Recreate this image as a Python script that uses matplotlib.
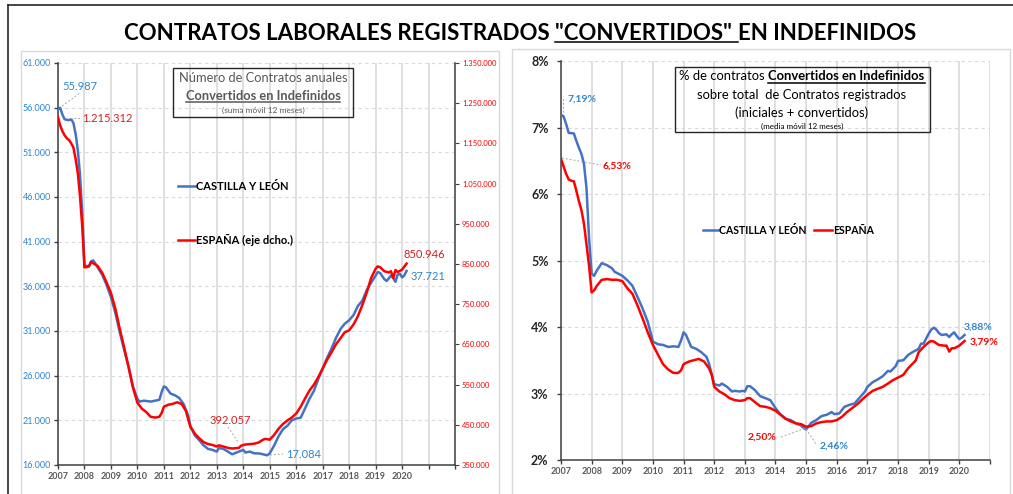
import matplotlib
matplotlib.use('Agg')
import matplotlib.pyplot as plt
from matplotlib.lines import Line2D
from matplotlib.patches import Rectangle
from matplotlib.ticker import FuncFormatter

# ---- data ----
# left chart: CyL (left axis, contracts) / España (right axis, contracts)
cyl_x = [2007.0, 2007.08, 2007.17, 2007.25, 2007.4, 2007.5, 2007.58, 2007.67, 2007.75, 2007.83,
         2007.92, 2008.0, 2008.08, 2008.17, 2008.25, 2008.33, 2008.42, 2008.5, 2008.67, 2008.83,
         2009.0, 2009.17, 2009.33, 2009.5, 2009.67, 2009.83, 2010.0, 2010.08, 2010.25, 2010.5,
         2010.67, 2010.83, 2010.92, 2011.0, 2011.08, 2011.25, 2011.42, 2011.58, 2011.75, 2011.92,
         2012.0, 2012.17, 2012.33, 2012.5, 2012.67, 2012.83, 2013.0, 2013.08, 2013.25, 2013.42,
         2013.58, 2013.75, 2013.92, 2014.0, 2014.08, 2014.25, 2014.42, 2014.58, 2014.75, 2014.9,
         2015.0, 2015.17, 2015.33, 2015.5, 2015.67, 2015.83, 2016.0, 2016.17, 2016.33, 2016.5,
         2016.67, 2016.83, 2017.0, 2017.17, 2017.33, 2017.5, 2017.67, 2017.83, 2018.0, 2018.17,
         2018.33, 2018.5, 2018.67, 2018.83, 2019.0, 2019.08, 2019.17, 2019.33, 2019.42, 2019.5,
         2019.58, 2019.67, 2019.75, 2019.83, 2019.92, 2020.0, 2020.08, 2020.17]
cyl_num = [55800, 55987, 55200, 54700, 54600, 54700, 54300, 53000, 51200, 48500,
           44000, 38200, 38300, 38200, 38800, 38900, 38500, 38100, 37300, 36200,
           34800, 33000, 30900, 28900, 27000, 24800, 23400, 23100, 23200, 23100,
           23200, 23300, 24200, 24800, 24700, 24000, 23800, 23500, 22800, 21500,
           20400, 19300, 18800, 18200, 17800, 17700, 17500, 17900, 17800, 17500,
           17200, 17400, 17600, 17700, 17400, 17500, 17300, 17300, 17200, 17084,
           17300, 18200, 19200, 20000, 20400, 21000, 21200, 21300, 22300, 23400,
           24300, 25600, 26800, 28000, 29000, 30200, 31200, 31800, 32200, 32800,
           33800, 34400, 35600, 36400, 37200, 37600, 37500, 36800, 36600, 36900,
           37200, 36900, 36500, 37300, 37400, 37000, 37200, 37721]

esp_x = [2007.0, 2007.08, 2007.17, 2007.25, 2007.33, 2007.42, 2007.5, 2007.58, 2007.67, 2007.75,
         2007.83, 2007.92, 2008.0, 2008.08, 2008.17, 2008.25, 2008.33, 2008.5, 2008.67, 2008.83,
         2009.0, 2009.17, 2009.33, 2009.5, 2009.67, 2009.83, 2010.0, 2010.17, 2010.33, 2010.5,
         2010.67, 2010.83, 2010.92, 2011.0, 2011.17, 2011.33, 2011.5, 2011.67, 2011.83, 2012.0,
         2012.17, 2012.33, 2012.5, 2012.67, 2012.83, 2013.0, 2013.08, 2013.25, 2013.42, 2013.58,
         2013.75, 2013.83, 2013.92, 2014.08, 2014.25, 2014.42, 2014.58, 2014.75, 2014.83, 2015.0,
         2015.17, 2015.33, 2015.5, 2015.67, 2015.83, 2016.0, 2016.17, 2016.33, 2016.5, 2016.67,
         2016.83, 2017.0, 2017.17, 2017.33, 2017.5, 2017.67, 2017.83, 2018.0, 2018.17, 2018.33,
         2018.5, 2018.67, 2018.83, 2019.0, 2019.08, 2019.17, 2019.33, 2019.5, 2019.58, 2019.67,
         2019.75, 2019.83, 2019.92, 2020.0, 2020.08, 2020.17]
esp_num = [1215312, 1195000, 1180000, 1170000, 1163000, 1158000, 1150000, 1140000, 1110000, 1075000,
           1020000, 940000, 842000, 842000, 845000, 855000, 852000, 845000, 828000, 805000,
           778000, 738000, 690000, 642000, 592000, 543000, 505000, 490000, 482000, 470000,
           468000, 470000, 480000, 495000, 500000, 502000, 506000, 502000, 485000, 445000,
           428000, 417000, 407000, 402000, 400000, 396000, 399000, 396000, 392500, 391000,
           392057, 392500, 398000, 401000, 402000, 403000, 406000, 413000, 415000, 413000,
           425000, 440000, 452000, 461000, 468000, 478000, 495000, 515000, 535000, 550000,
           568000, 590000, 612000, 630000, 650000, 665000, 680000, 685000, 700000, 720000,
           748000, 780000, 815000, 838000, 844000, 842000, 832000, 829000, 832000, 815000,
           835000, 830000, 833000, 836000, 843000, 850946]

# right chart: % converted over total registered contracts
cyl_pct_x = [2007.0, 2007.08, 2007.17, 2007.25, 2007.42, 2007.5, 2007.58, 2007.67, 2007.75, 2007.83,
             2007.92, 2008.0, 2008.08, 2008.17, 2008.33, 2008.5, 2008.67, 2008.75, 2008.92, 2009.0,
             2009.17, 2009.33, 2009.5, 2009.67, 2009.83, 2010.0, 2010.17, 2010.33, 2010.5, 2010.67,
             2010.83, 2010.92, 2011.0, 2011.08, 2011.25, 2011.42, 2011.58, 2011.75, 2011.83, 2012.0,
             2012.17, 2012.25, 2012.42, 2012.58, 2012.67, 2012.83, 2012.92, 2013.0, 2013.08, 2013.17,
             2013.33, 2013.5, 2013.67, 2013.83, 2014.0, 2014.17, 2014.33, 2014.5, 2014.67, 2014.83,
             2014.92, 2015.0, 2015.17, 2015.33, 2015.5, 2015.67, 2015.83, 2015.92, 2016.08, 2016.25,
             2016.42, 2016.58, 2016.75, 2016.92, 2017.0, 2017.17, 2017.33, 2017.5, 2017.67, 2017.75,
             2017.92, 2018.0, 2018.17, 2018.33, 2018.5, 2018.67, 2018.75, 2018.83, 2019.0, 2019.08,
             2019.17, 2019.25, 2019.33, 2019.42, 2019.58, 2019.67, 2019.75, 2019.83, 2019.92, 2020.0,
             2020.08, 2020.17]
cyl_pct = [7.19, 7.17, 7.05, 6.92, 6.91, 6.80, 6.70, 6.60, 6.45, 6.10,
           5.30, 4.80, 4.77, 4.85, 4.96, 4.93, 4.88, 4.83, 4.79, 4.77,
           4.70, 4.62, 4.45, 4.27, 4.08, 3.78, 3.74, 3.73, 3.70, 3.71,
           3.70, 3.80, 3.92, 3.88, 3.70, 3.67, 3.62, 3.55, 3.45, 3.14,
           3.12, 3.15, 3.10, 3.03, 3.04, 3.03, 3.04, 3.03, 3.11, 3.11,
           3.05, 2.96, 2.93, 2.90, 2.78, 2.68, 2.62, 2.60, 2.55, 2.52,
           2.48, 2.46, 2.56, 2.60, 2.66, 2.68, 2.72, 2.69, 2.70, 2.80,
           2.83, 2.85, 2.94, 3.03, 3.10, 3.17, 3.21, 3.26, 3.34, 3.33,
           3.41, 3.49, 3.50, 3.58, 3.63, 3.67, 3.75, 3.75, 3.90, 3.96,
           3.99, 3.96, 3.91, 3.88, 3.89, 3.85, 3.89, 3.92, 3.86, 3.82,
           3.84, 3.88]

esp_pct_x = [2007.0, 2007.08, 2007.17, 2007.25, 2007.33, 2007.42, 2007.5, 2007.58, 2007.67, 2007.75,
             2007.83, 2007.92, 2008.0, 2008.08, 2008.17, 2008.33, 2008.5, 2008.67, 2008.83, 2009.0,
             2009.17, 2009.33, 2009.5, 2009.67, 2009.83, 2010.0, 2010.17, 2010.33, 2010.5, 2010.67,
             2010.83, 2010.92, 2011.0, 2011.17, 2011.33, 2011.5, 2011.67, 2011.83, 2011.92, 2012.0,
             2012.17, 2012.33, 2012.5, 2012.67, 2012.83, 2013.0, 2013.08, 2013.17, 2013.33, 2013.5,
             2013.67, 2013.83, 2014.0, 2014.17, 2014.33, 2014.5, 2014.67, 2014.83, 2015.0, 2015.17,
             2015.33, 2015.5, 2015.67, 2015.83, 2016.0, 2016.17, 2016.33, 2016.5, 2016.67, 2016.83,
             2017.0, 2017.17, 2017.33, 2017.5, 2017.67, 2017.83, 2018.0, 2018.17, 2018.33, 2018.5,
             2018.58, 2018.67, 2018.83, 2019.0, 2019.08, 2019.17, 2019.33, 2019.5, 2019.58, 2019.67,
             2019.75, 2019.83, 2019.92, 2020.0, 2020.17]
esp_pct = [6.53, 6.42, 6.30, 6.22, 6.20, 6.19, 6.05, 5.90, 5.75, 5.55,
           5.25, 4.90, 4.52, 4.55, 4.62, 4.71, 4.72, 4.71, 4.71, 4.69,
           4.58, 4.50, 4.32, 4.12, 3.92, 3.73, 3.58, 3.44, 3.36, 3.31,
           3.31, 3.35, 3.44, 3.48, 3.50, 3.52, 3.48, 3.38, 3.28, 3.10,
           3.03, 2.99, 2.93, 2.90, 2.89, 2.90, 2.93, 2.93, 2.87, 2.81,
           2.80, 2.78, 2.74, 2.68, 2.62, 2.58, 2.55, 2.54, 2.50, 2.51,
           2.55, 2.57, 2.58, 2.58, 2.60, 2.65, 2.72, 2.78, 2.84, 2.91,
           2.98, 3.04, 3.07, 3.10, 3.15, 3.20, 3.24, 3.28, 3.38, 3.46,
           3.50, 3.62, 3.70, 3.77, 3.79, 3.78, 3.73, 3.72, 3.72, 3.63,
           3.68, 3.68, 3.70, 3.72, 3.79]

years = list(range(2007, 2023))
left_ticks = list(range(16000, 61001, 5000))
right_ticks = list(range(350000, 1350001, 100000))
pct_ticks = [2, 3, 4, 5, 6, 7, 8]

# ---- style ----
W, H = 1013, 494
plt.rcParams['font.family'] = ['Lato', 'DejaVu Sans']
BLUE = '#4472C4'
RED = '#FF0000'
LBLUE = '#2E86D1'
GRID = '#D9D9D9'
DARK = '#404040'
YEARC = '#595959'

fig = plt.figure(figsize=(W / 100, H / 100), dpi=100)


def fx(x):
    return x / W


def fy(y):
    return 1 - y / H


def rect(x0, y0, x1, y1):
    return [fx(x0), fy(y1), (x1 - x0) / W, (y1 - y0) / H]


def fline(xs, ys, **kw):
    fig.add_artist(Line2D([fx(v) for v in xs], [fy(v) for v in ys], **kw))


def dots(xs, ys):
    fline(xs, ys, color='#A6A6A6', lw=0.7, ls=(0, (2, 2)))


rend = fig.canvas.get_renderer()


def runs(xc, y, parts, size, color='black'):
    """centre a line of text made of (text, weight, underline) parts"""
    objs = []
    for txt, wt, ul in parts:
        t = fig.text(0, fy(y), txt.replace(' ', '\u00a0'), fontsize=size, fontweight=wt,
                     color=color, va='baseline', ha='left')
        objs.append((t, ul))
    widths = [t.get_window_extent(rend).width for t, _ in objs]
    start = xc - sum(widths) / 2
    for (t, ul), w in zip(objs, widths):
        t.set_x(fx(start))
        if ul:
            fline([start, start + w], [y + 2.5, y + 2.5], color=color, lw=1.1)
        start += w


# frame and panel borders
fline([8, 8], [5, 494], color='#262626', lw=1.2)
fline([8, 1013], [5, 5], color='#262626', lw=1.2)
fig.add_artist(Rectangle((fx(21), fy(496)), (499 - 21) / W, (496 - 51) / H, transform=fig.transFigure,
                         fill=False, ec=GRID, lw=1))
fig.add_artist(Rectangle((fx(512), fy(496)), (1010 - 512) / W, (496 - 49) / H, transform=fig.transFigure,
                         fill=False, ec=GRID, lw=1))

# title
runs(520, 40, [('CONTRATOS LABORALES REGISTRADOS ', 'bold', False),
               ('"CONVERTIDOS" ', 'bold', True),
               ('EN INDEFINIDOS', 'bold', False)], 16)


def style_axes(ax):
    ax.spines['top'].set_visible(False)
    ax.spines['right'].set_visible(False)
    for s in ('left', 'bottom'):
        ax.spines[s].set_color(DARK)
        ax.spines[s].set_linewidth(1.1)
    ax.xaxis.grid(True, color=GRID, lw=1.2, ls='-')
    ax.yaxis.grid(True, color=GRID, lw=0.8, ls=(0, (3, 3)))
    ax.set_axisbelow(True)
    ax.tick_params(axis='both', direction='out', length=3, color=DARK, width=1)


# ---- left chart ----
axL = fig.add_axes(rect(58, 63, 455, 465))
style_axes(axL)
axL.set_xlim(2007, 2022)
axL.set_ylim(16000, 61000)
axL.set_xticks(years)
axL.set_xticklabels([str(y) if y <= 2020 else '' for y in years],
                    fontsize=6.5, fontweight='bold', color=YEARC)
axL.set_yticks(left_ticks)
axL.yaxis.set_major_formatter(FuncFormatter(lambda v, p: f'{int(v):,}'.replace(',', '.')))
axL.tick_params(axis='y', labelsize=6.5, labelcolor=LBLUE, pad=2)
axL.tick_params(axis='x', pad=2)
axL.plot(cyl_x, cyl_num, color=BLUE, lw=1.8, zorder=3)

axE = axL.twinx()
axE.set_ylim(350000, 1350000)
axE.set_yticks(right_ticks)
axE.yaxis.set_major_formatter(FuncFormatter(lambda v, p: f'{int(v):,}'.replace(',', '.')))
axE.tick_params(axis='y', labelsize=5.5, labelcolor=RED, direction='out', length=3, color=DARK, pad=2)
for s in ('top', 'left', 'bottom'):
    axE.spines[s].set_visible(False)
axE.spines['right'].set_color(DARK)
axE.spines['right'].set_linewidth(1.1)
axE.plot(esp_x, esp_num, color=RED, lw=1.8, zorder=4)

# left text box
fig.add_artist(Rectangle((fx(173), fy(117)), (353 - 173) / W, (117 - 68) / H, transform=fig.transFigure,
                         fill=False, ec='#262626', lw=1))
runs(263, 82, [('Número de Contratos anuales', 'normal', False)], 9.3, color='#595959')
runs(263, 100, [('Convertidos en Indefinidos', 'bold', True)], 9.3, color='#595959')
runs(263, 113, [('(suma móvil 12 meses)', 'normal', False)], 6, color='#595959')

# left legend
fline([178, 195], [186, 186], color=BLUE, lw=1.8)
fig.text(fx(196), fy(186), 'CASTILLA Y LEÓN', fontsize=8, fontweight='bold', va='center')
fline([178, 195], [240, 240], color=RED, lw=1.8)
fig.text(fx(196), fy(240), 'ESPAÑA (eje dcho.)', fontsize=8, fontweight='bold', va='center')

# left annotations
fig.text(fx(62), fy(86), '55.987', fontsize=8, color=LBLUE, va='center')
dots([62, 80], [106, 93])
fig.text(fx(82), fy(118), '1.215.312', fontsize=8, color='#D62020', va='center')
dots([70, 80], [118, 118])
fig.text(fx(210), fy(420), '392.057', fontsize=8, color='#D62020', va='center')
dots([228, 238], [427, 442])
fig.text(fx(286), fy(454), '17.084', fontsize=8, color=LBLUE, va='center')
dots([270, 283], [455, 454])
fig.text(fx(403), fy(254), '850.946', fontsize=8, color='#D62020', va='center')
fig.text(fx(411), fy(277), '37.721', fontsize=8, color=LBLUE, va='center')

# ---- right chart ----
axP = fig.add_axes(rect(561, 61, 990, 460))
style_axes(axP)
axP.set_xlim(2007, 2021)
axP.set_ylim(2, 8)
axP.set_xticks(years[:15])
axP.set_xticklabels([str(y) if y <= 2020 else '' for y in years[:15]],
                    fontsize=6.5, fontweight='bold', color=YEARC)
axP.set_yticks(pct_ticks)
axP.set_yticklabels([f'{v}%' for v in pct_ticks], fontsize=9, fontweight='bold', color='#262626')
axP.tick_params(axis='y', pad=6)
axP.tick_params(axis='x', pad=2)
axP.plot(cyl_pct_x, cyl_pct, color=BLUE, lw=1.8, zorder=3)
axP.plot(esp_pct_x, esp_pct, color=RED, lw=1.8, zorder=4)

# right text box
fig.add_artist(Rectangle((fx(675), fy(132)), (930 - 675) / W, (132 - 67) / H, transform=fig.transFigure,
                         fill=False, ec='#262626', lw=1))
runs(802, 80, [('% de contratos ', 'normal', False), ('Convertidos en Indefinidos', 'bold', True)], 9.4)
runs(802, 99, [('sobre total  de Contratos registrados', 'normal', False)], 9.4)
runs(802, 117, [('(iniciales + convertidos)', 'normal', False)], 9.4)
runs(802, 129, [('(media móvil 12 meses)', 'normal', False)], 5.8)

# right legend
fline([703, 718], [230, 230], color=BLUE, lw=1.8)
fig.text(fx(719), fy(230), 'CASTILLA Y LEÓN', fontsize=7.6, fontweight='bold', va='center')
fline([814, 832], [230, 230], color=RED, lw=1.8)
fig.text(fx(833), fy(230), 'ESPAÑA', fontsize=7.6, fontweight='bold', va='center')

# right annotations
fig.text(fx(568), fy(99), '7,19%', fontsize=7.5, fontweight='bold', color=LBLUE, va='center')
dots([563, 563, 566], [112, 99, 99])
fig.text(fx(603), fy(166), '6,53%', fontsize=7.5, fontweight='bold', color=RED, va='center')
dots([562, 601], [158, 165])
fig.text(fx(748), fy(437), '2,50%', fontsize=7.5, fontweight='bold', color=RED, va='center')
dots([781, 806], [437, 428])
fig.text(fx(820), fy(446), '2,46%', fontsize=7.5, fontweight='bold', color=LBLUE, va='center')
dots([806, 816], [429, 444])
fig.text(fx(964), fy(327), '3,88%', fontsize=7.5, fontweight='bold', color=LBLUE, va='center')
fig.text(fx(970), fy(342), '3,79%', fontsize=7.5, fontweight='bold', color=RED, va='center')

fig.savefig('out.png', dpi=100)
